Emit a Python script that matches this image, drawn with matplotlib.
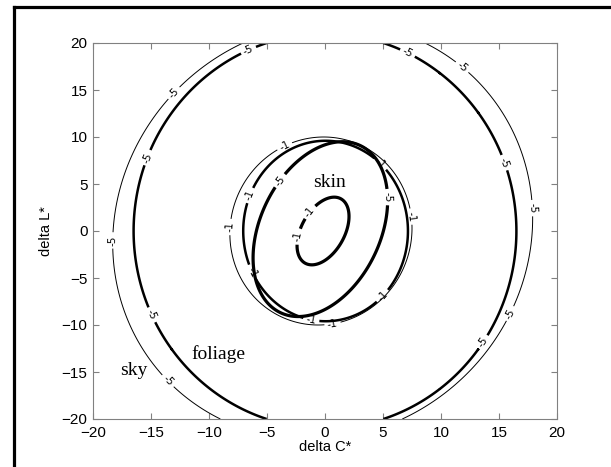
import numpy as np
import matplotlib
matplotlib.use('Agg')
import matplotlib.pyplot as plt
from matplotlib.lines import Line2D

# Log-likelihood rings per colour class: centre, half extent along C* and L*,
# and the C*/L* correlation of each ring
ring_class = ['skin', 'skin', 'foliage', 'foliage', 'sky', 'sky']
ring_level = [-1, -5, -1, -5, -1, -5]
ring_cx = [-0.17, -0.4, 0.05, 0.0, -0.35, -0.2]
ring_cy = [0.0, 0.2, 0.0, 0.0, 0.0, 0.0]
ring_hx = [2.24, 5.8, 7.1, 16.5, 7.85, 18.1]
ring_hy = [3.6, 9.3, 9.6, 21.0, 10.0, 22.2]
ring_rho = [0.43, 0.33, 0.0, 0.0, 0.03, 0.06]

# where the level labels sit on each ring
ring_labels = [
    [(-1.5, 2.2), (-2.3, -0.6)],
    [(-3.6, 5.1), (5.3, 3.6)],
    [(-6.5, 3.8), (-6.3, -4.4), (4.5, 6.8), (4.7, -6.6), (-1.1, -8.9)],
    [(-6.6, 19.25), (7.1, 18.9), (-15.3, 7.8), (-14.9, -8.9), (15.3, 7.2), (13.6, -11.8)],
    [(-3.2, 8.3), (-7.9, 0.4), (7.2, 1.5), (0.6, -9.5)],
    [(-12.7, 14.3), (-18.3, -1.0), (-13.5, -15.9), (11.6, 17.1), (17.4, 2.4), (15.0, -8.2)],
]

class_lw = {'skin': 2.3, 'foliage': 1.8, 'sky': 0.7}

class_names = ['skin', 'foliage', 'sky']
name_x = [0.4, -9.2, -16.5]
name_y = [4.7, -13.6, -15.3]

ticks = np.arange(-20, 21, 5)

plt.rcParams['axes.unicode_minus'] = True

fig = plt.figure(figsize=(6.11, 4.67), dpi=100)
ax = fig.add_axes([93 / 611, 48 / 467, 464 / 611, 376 / 467])

g = np.linspace(-20, 20, 801)
X, Y = np.meshgrid(g, g)

for i in range(len(ring_level)):
    dx = (X - ring_cx[i]) / ring_hx[i]
    dy = (Y - ring_cy[i]) / ring_hy[i]
    r = ring_rho[i]
    q = (dx ** 2 - 2 * r * dx * dy + dy ** 2) / (1 - r ** 2)
    field = ring_level[i] * q
    cs = ax.contour(X, Y, field, levels=[ring_level[i]], colors='k',
                    linewidths=class_lw[ring_class[i]], linestyles='solid')
    ax.clabel(cs, fmt='%g', fontsize=7.5, inline=True, inline_spacing=3,
              manual=ring_labels[i])

for name, tx, ty in zip(class_names, name_x, name_y):
    ax.text(tx, ty, name, family='Liberation Serif', fontsize=14,
            ha='center', va='baseline')

ax.set_xlim(-20, 20)
ax.set_ylim(-20, 20)
ax.set_xticks(ticks)
ax.set_yticks(ticks)
ax.set_xticklabels(['\u2212%d' % -t if t < 0 else '%d' % t for t in ticks])
ax.set_yticklabels(['\u2212%d' % -t if t < 0 else '%d' % t for t in ticks])
for s in ax.spines.values():
    s.set_color('#808080')
    s.set_linewidth(0.8)
ax.tick_params(direction='in', length=4, width=0.8, color='#808080',
               labelsize=11, top=True, right=True)
ax.tick_params(axis='x', pad=5)
ax.tick_params(axis='y', pad=4)
for lab in ax.get_xticklabels() + ax.get_yticklabels():
    lab.set_family('Liberation Sans')

ax.set_xlabel('delta C*', family='Liberation Sans', fontsize=10.5, labelpad=0)
ax.set_ylabel('delta L*', family='Liberation Sans', fontsize=10.5, labelpad=6)

# heavy frame along top and left of the figure
fx = 14 / 611
fy = 1 - 7 / 467
fig.add_artist(Line2D([fx, fx], [0, fy], transform=fig.transFigure, color='k', lw=2.3))
fig.add_artist(Line2D([fx, 1], [fy, fy], transform=fig.transFigure, color='k', lw=2.3))

fig.savefig('out.png', dpi=100)
